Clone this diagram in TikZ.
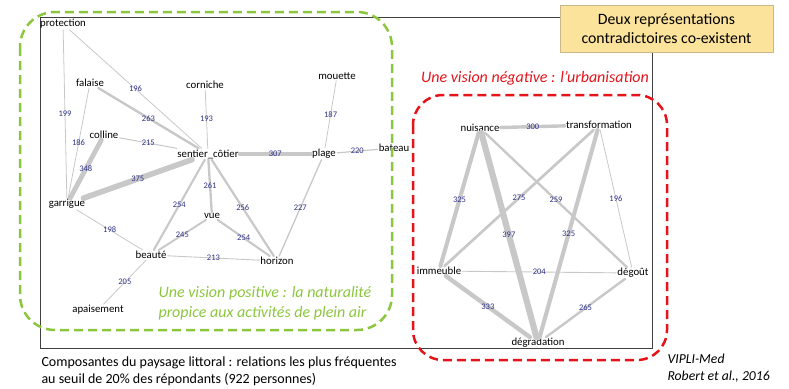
\documentclass[tikz,border=0pt]{standalone}
\usepackage{fontspec}
\setmainfont{Carlito}
\usepackage{tikz}
\definecolor{linkgray}{HTML}{C8C8C8}
\definecolor{numblue}{HTML}{2E3187}
\definecolor{posgreen}{HTML}{8CC63F}
\definecolor{negred}{HTML}{E5141B}
\definecolor{boxyellow}{HTML}{FCE39B}
\definecolor{boxedge}{HTML}{C9B98A}

\begin{document}
\begin{tikzpicture}[x=1pt, y=-1pt,
  word/.style={inner sep=1pt, font=\fontsize{10.8}{12}\selectfont},
  link/.style={linkgray, line cap=round},
  num/.style={midway, inner sep=0pt, text=numblue, font=\fontsize{8.5}{9}\selectfont}]

\useasboundingbox (0,0) rectangle (789,388);

% frame and title
\draw[black!75, thin] (560,17) -- (40,17) -- (40,348) -- (652,348) -- (652,52);
\node[draw=boxedge, fill=boxyellow, minimum width=213pt, minimum height=47pt, align=center,
      font=\fontsize{15.8}{19}\selectfont] (title) at (666.5,28.5) {Deux représentations\\contradictoires co-existent};

% positive vision
\node[word] (protection) at (63,24) {protection};
\node[word] (falaise) at (90,83) {falaise};
\node[word] (corniche) at (205,85) {corniche};
\node[word] (mouette) at (337,76) {mouette};
\node[word] (colline) at (104,135) {colline};
\node[word] (sentier) at (208,154) {sentier\_côtier};
\node[word] (plage) at (324,154) {plage};
\node[word] (bateau) at (394,148) {bateau};
\node[word] (garrigue) at (67,204) {garrigue};
\node[word] (vue) at (212,216) {vue};
\node[word] (beaute) at (151,255) {beauté};
\node[word] (horizon) at (277,261) {horizon};
\node[word] (apaisement) at (98,310) {apaisement};

\draw[link, line width=0.8pt] (protection) -- node[num]{199} (garrigue);
\draw[link, line width=0.8pt] (protection) -- node[num]{196} (sentier);
\draw[link, line width=2.4pt] (falaise) -- node[num]{263} (sentier);
\draw[link, line width=0.8pt] (falaise) -- node[num]{186} (garrigue);
\draw[link, line width=1.0pt] (colline) -- node[num]{215} (sentier);
\draw[link, line width=4.8pt] (colline) -- node[num]{348} (garrigue);
\draw[link, line width=5.6pt] (garrigue) -- node[num]{375} (sentier);
\draw[link, line width=0.8pt] (corniche) -- node[num]{193} (sentier);
\draw[link, line width=0.8pt] (mouette) -- node[num]{187} (plage);
\draw[link, line width=3.6pt] (sentier) -- node[num]{307} (plage);
\draw[link, line width=1.2pt] (plage) -- node[num]{220} (bateau);
\draw[link, line width=2.3pt] (sentier) -- node[num]{261} (vue);
\draw[link, line width=2.1pt] (sentier) -- node[num]{254} (beaute);
\draw[link, line width=2.2pt] (sentier) -- node[num]{256} (horizon);
\draw[link, line width=1.3pt] (plage) -- node[num]{227} (horizon);
\draw[link, line width=1.9pt] (vue) -- node[num]{245} (beaute);
\draw[link, line width=2.1pt] (vue) -- node[num]{254} (horizon);
\draw[link, line width=0.9pt] (beaute) -- node[num]{213} (horizon);
\draw[link, line width=0.8pt] (garrigue) -- node[num]{198} (beaute);
\draw[link, line width=0.8pt] (beaute) -- node[num]{205} (apaisement);

% negative vision
\node[word] (nuisance) at (480,128) {nuisance};
\node[word] (transformation) at (599,125) {transformation};
\node[word] (immeuble) at (439,271) {immeuble};
\node[word] (degout) at (633,273) {dégoût};
\node[word] (degradation) at (538,343) {dégradation};

\draw[link, line width=3.4pt] (nuisance) -- node[num]{300} (transformation);
\draw[link, line width=4.1pt] (nuisance) -- node[num]{325} (immeuble);
\draw[link, line width=6.2pt] (nuisance) -- node[num]{397} (degradation);
\draw[link, line width=2.3pt] (nuisance) -- node[num]{259} (degout);
\draw[link, line width=2.7pt] (transformation) -- node[num]{275} (immeuble);
\draw[link, line width=4.1pt] (transformation) -- node[num]{325} (degradation);
\draw[link, line width=0.8pt] (transformation) -- node[num]{196} (degout);
\draw[link, line width=0.9pt] (immeuble) -- node[num]{204} (degout);
\draw[link, line width=4.4pt] (immeuble) -- node[num]{333} (degradation);
\draw[link, line width=2.4pt] (degout) -- node[num]{265} (degradation);

% groups
\draw[posgreen, line width=2.5pt, dash pattern=on 9pt off 5pt, rounded corners=35pt] (20,12) rectangle (392,330);
\draw[negred, line width=2.5pt, dash pattern=on 9pt off 5pt, rounded corners=30pt] (413,95) rectangle (667,360);
\node[anchor=west, align=left, text=posgreen, font=\itshape\fontsize{16}{20}\selectfont] (positive) at (155,303)
  {Une vision positive : la naturalité\\propice aux activités de plein air};
\node[text=negred, font=\itshape\fontsize{16}{18}\selectfont] (negative) at (535,78)
  {Une vision négative : l’urbanisation};

% captions
\node[anchor=west, align=left, font=\fontsize{14}{17}\selectfont] (caption) at (38,371)
  {Composantes du paysage littoral : relations les plus fréquentes\\au seuil de 20\% des répondants (922 personnes)};
\node[anchor=west, align=left, font=\itshape\fontsize{13.7}{17}\selectfont] (source) at (664,368)
  {VIPLI-Med\\Robert et al., 2016};

\end{tikzpicture}
\end{document}
